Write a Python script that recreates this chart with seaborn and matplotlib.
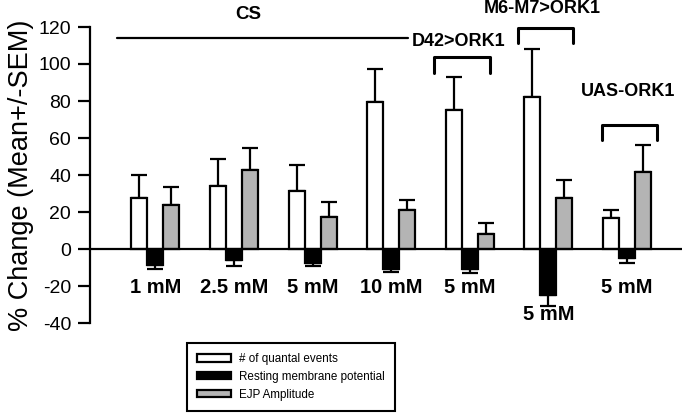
import numpy as np
import pandas as pd
import matplotlib
matplotlib.use("Agg")
import matplotlib.pyplot as plt
import seaborn as sns

# values (% change, mean and SEM)
groups = ['CS 1 mM', 'CS 2.5 mM', 'CS 5 mM', 'CS 10 mM',
          'D42>ORK1 5 mM', 'M6-M7>ORK1 5 mM', 'UAS-ORK1 5 mM']
conc_labels = ['1 mM', '2.5 mM', '5 mM', '10 mM', '5 mM', '5 mM', '5 mM']
conc_label_y = [-21, -21, -21, -21, -21, -35.5, -21]
measures = ['# of quantal events', 'Resting membrane potential', 'EJP Amplitude']

quantal = [27.6, 34.3, 31.2, 79.4, 75.0, 82.0, 16.5]
quantal_sem = [12.4, 14.5, 14.2, 18.1, 18.0, 26.0, 4.6]
rmp = [-8.7, -6.0, -7.3, -10.9, -10.9, -24.7, -5.0]
rmp_sem = [2.2, 3.3, 1.8, 1.8, 2.2, 5.9, 2.4]
ejp = [24.0, 42.7, 17.2, 21.3, 8.3, 27.4, 41.6]
ejp_sem = [9.6, 12.1, 8.2, 5.0, 6.0, 9.8, 14.7]

colors = ['white', 'black', '#b4b4b4']

# long format table for seaborn
df = pd.DataFrame({
    'group': groups * 3,
    'measure': np.repeat(measures, len(groups)),
    'value': quantal + rmp + ejp,
    'sem': quantal_sem + rmp_sem + ejp_sem,
})

sns.set_style("ticks")
plt.rcParams['font.family'] = ['Liberation Sans', 'DejaVu Sans']
plt.rcParams['axes.unicode_minus'] = False
for key in ['text.color', 'axes.labelcolor', 'xtick.color', 'ytick.color', 'axes.edgecolor']:
    plt.rcParams[key] = 'black'

fig = plt.figure(figsize=(6.85, 4.15), dpi=100)
ax = fig.add_axes([90 / 685, 92 / 415, 592 / 685, 296 / 415])

sns.barplot(data=df, x='group', y='value', hue='measure', order=groups,
            hue_order=measures, palette=colors, width=0.61, errorbar=None,
            edgecolor='black', linewidth=1.6, saturation=1, ax=ax, zorder=3)

# one-sided SEM bars
for cont, m in zip(ax.containers, measures):
    sub = df[df['measure'] == m].set_index('group').loc[groups]
    for bar, v, s in zip(cont, sub['value'], sub['sem']):
        x = bar.get_x() + bar.get_width() / 2
        yerr = [[0], [s]] if v >= 0 else [[s], [0]]
        ax.errorbar(x, v, yerr=yerr, fmt='none', ecolor='black',
                    elinewidth=1.6, capsize=5.5, capthick=1.6, zorder=2)

ax.axhline(0, color='black', lw=1.6, zorder=4)

ax.set_xlim(-0.833, 6.70)
ax.set_ylim(-40, 120)
ax.set_yticks(range(-40, 121, 20))
ax.tick_params(axis='y', direction='out', length=8.5, width=1.6, labelsize=14, pad=5)
ax.tick_params(axis='x', length=0)
ax.set_xticks([])
ax.set_xlabel('')
ax.set_ylabel('% Change (Mean+/-SEM)', fontsize=19.5, labelpad=3)
for side in ['top', 'right', 'bottom']:
    ax.spines[side].set_visible(False)
ax.spines['left'].set_linewidth(1.6)

# concentration labels
for i, (lab, ly) in enumerate(zip(conc_labels, conc_label_y)):
    ax.text(i, ly, lab, ha='center', va='center', fontsize=14.5, fontweight='bold')

# genotype annotations
ax.text(1.18, 126.5, 'CS', ha='center', va='center', fontsize=13.5, fontweight='bold', clip_on=False)
ax.plot([-0.484, 3.21], [114, 114], color='black', lw=1.6, clip_on=False)

ax.text(3.86, 112, 'D42>ORK1', ha='center', va='center', fontsize=13, fontweight='bold')
ax.plot([3.54, 3.54, 4.26, 4.26], [95, 104, 104, 95], color='black', lw=2.2)

ax.text(4.92, 130, 'M6-M7>ORK1', ha='center', va='center', fontsize=13, fontweight='bold', clip_on=False)
ax.plot([4.61, 4.61, 5.31, 5.31], [111.5, 119.6, 119.6, 111.5], color='black', lw=2.2, clip_on=False)

ax.text(6.01, 85, 'UAS-ORK1', ha='center', va='center', fontsize=13, fontweight='bold')
ax.plot([5.68, 5.68, 6.38, 6.38], [59, 67, 67, 59], color='black', lw=2.2)

# legend below the plot
handles, labels = ax.get_legend_handles_labels()
leg = ax.legend(handles, labels, loc='upper left',
                bbox_to_anchor=(187 / 685, 1 - 343 / 415), bbox_transform=fig.transFigure,
                fontsize=8.4, frameon=True, fancybox=False, edgecolor='black', framealpha=1,
                handlelength=2.9, handleheight=0.6, labelspacing=0.5, borderpad=0.85,
                handletextpad=0.7, borderaxespad=0)
leg.get_frame().set_linewidth(1.5)

fig.savefig('out.png', dpi=100)
